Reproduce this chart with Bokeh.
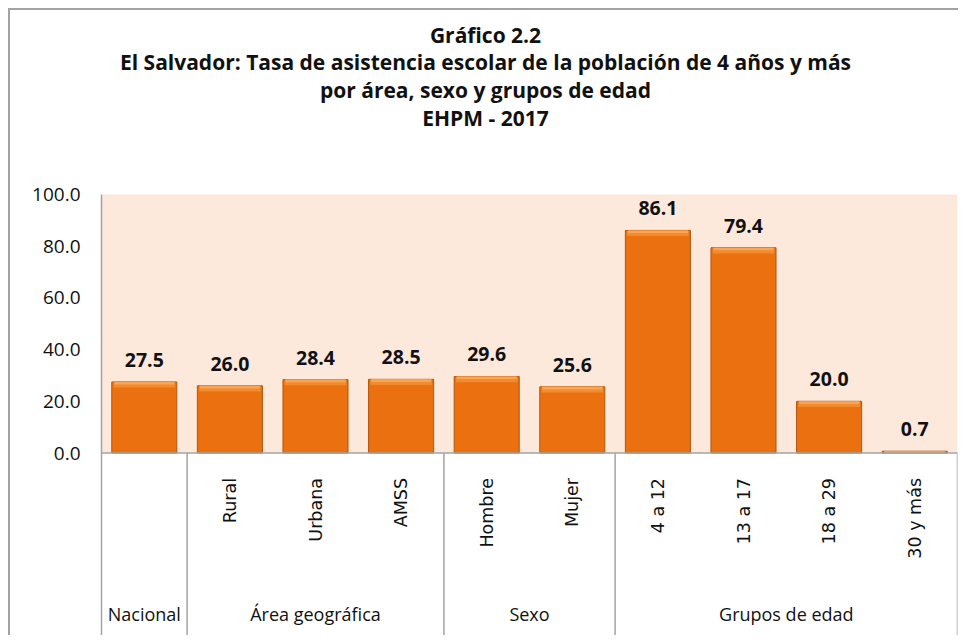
import math
from bokeh.plotting import figure
from bokeh.models import FactorRange, Range1d, FixedTicker, PrintfTickFormatter, BoxAnnotation, ColumnDataSource
from bokeh.core.properties import value
from bokeh.embed import file_html
from bokeh.resources import INLINE

# ---------------- data ----------------
categories = ["Nacional", "Rural", "Urbana", "AMSS", "Hombre", "Mujer",
              "4 a 12", "13 a 17", "18 a 29", "30 y más"]
tick_labels = ["", "Rural", "Urbana", "AMSS", "Hombre", "Mujer",
               "4 a 12", "13 a 17", "18 a 29", "30 y más"]
values = [27.5, 26.0, 28.4, 28.5, 29.6, 25.6, 86.1, 79.4, 20.0, 0.7]
group_names = ["Nacional", "Área geográfica", "Sexo", "Grupos de edad"]
group_sizes = [1, 3, 2, 4]
y_ticks = [0, 20, 40, 60, 80, 100]
title_lines = ["Gráfico 2.2",
               "El Salvador: Tasa de asistencia escolar de la población de 4 años y más",
               "por área, sexo y grupos de edad",
               "EHPM - 2017"]

# ---------------- layout ----------------
W, H = 950, 627
FRAME_L, FRAME_R = 91, 3
ZERO_PX = 442.5          # canvas y of value 0
TOP_PX = 184.0           # canvas y of value 100
PX = (ZERO_PX - TOP_PX) / 100.0
Y_END = 100 + TOP_PX / PX
Y_START = -(H - ZERO_PX) / PX
CAT_W = (W - FRAME_L - FRAME_R) / len(categories)

def data_y(canvas_y):
    return Y_END - canvas_y / PX

p = figure(width=W, height=H,
           x_range=FactorRange(factors=categories, range_padding=0),
           y_range=Range1d(Y_START, Y_END),
           x_axis_location=None, toolbar_location=None, output_backend="svg",
           min_border_left=FRAME_L, min_border_right=FRAME_R,
           min_border_top=0, min_border_bottom=0)
p.styles = {"margin-left": "8px", "margin-top": "8px",
            "border-left": "2px solid #A3A3A3", "border-top": "2px solid #A3A3A3"}
p.outline_line_color = None
p.background_fill_color = "white"
p.border_fill_color = "white"
p.xgrid.grid_line_color = None
p.ygrid.grid_line_color = None

# plot-area background (0..100)
p.add_layout(BoxAnnotation(bottom=0, top=100, fill_color="#FCE9DC", fill_alpha=1.0,
                           line_color=None, level="underlay"))

# y axis
ax = p.yaxis[0]
ax.ticker = FixedTicker(ticks=y_ticks)
ax.formatter = PrintfTickFormatter(format="%.1f")
ax.bounds = (Y_START, 100)
ax.axis_line_color = "#A3A3A3"
ax.axis_line_width = 1.5
ax.major_tick_line_color = None
ax.minor_tick_line_color = None
ax.major_tick_out = 0
ax.major_tick_in = 0
ax.minor_tick_out = 0
ax.major_label_standoff = 21
ax.major_label_text_font = "Open Sans"
ax.major_label_text_font_size = "19px"
ax.major_label_text_color = "#111111"

# bars
src = ColumnDataSource(dict(
    cat=categories, val=values,
    hl_bottom=[max(v - 2.2, 0) for v in values],
    hl2_bottom=[max(v - 1.0, 0) for v in values],
    lab=[f"{v:.1f}" for v in values],
))
p.vbar(x="cat", top="val", bottom=0, width=0.76, source=src,
       fill_color="#EA7010", line_color="#B3560C", line_width=1)
p.vbar(x="cat", top="val", bottom="hl_bottom", width=0.72, source=src,
       fill_color="#F28A30", line_color=None)
p.vbar(x="cat", top="val", bottom="hl2_bottom", width=0.70, source=src,
       fill_color="#F8A655", line_color=None)

# value labels
p.text(x="cat", y="val", text="lab", source=src, y_offset=-22,
       text_align="center", text_baseline="middle",
       text_font=value("Open Sans"), text_font_style="bold",
       text_font_size="19.5px", text_color="#111111")

# x axis line at 0 and separators below
n = len(categories)
p.segment(x0=[0], y0=[0], x1=[n], y1=[0], line_color="#A3A3A3", line_width=1.5)
bounds = []
acc = 0
centers = []
for s in group_sizes:
    centers.append(acc + s / 2.0)
    acc += s
    bounds.append(acc)
p.segment(x0=bounds, y0=[0] * len(bounds), x1=bounds, y1=[Y_START] * len(bounds),
          line_color="#A3A3A3", line_width=1.5)

# category labels (vertical)
p.text(x=categories, y=[0] * n, text=tick_labels, angle=math.pi / 2,
       y_offset=25, text_align="right", text_baseline="middle",
       text_font=value("DejaVu Sans"), text_font_size="17.5px", text_color="#111111")

# group labels
p.text(x=centers, y=[0] * len(centers), text=group_names, y_offset=161,
       text_align="center", text_baseline="middle",
       text_font=value("Open Sans"), text_font_size="18px", text_color="#111111")

# title
title_x = (475 - FRAME_L) / CAT_W
title_canvas_y = [24, 51, 79, 107]
p.text(x=[title_x] * len(title_lines), y=[data_y(c) for c in title_canvas_y],
       text=title_lines, text_align="center", text_baseline="middle",
       text_font=value("Open Sans"), text_font_style="bold",
       text_font_size="21px", text_color="#111111")

open("out.html", "w").write(file_html(p, INLINE))
